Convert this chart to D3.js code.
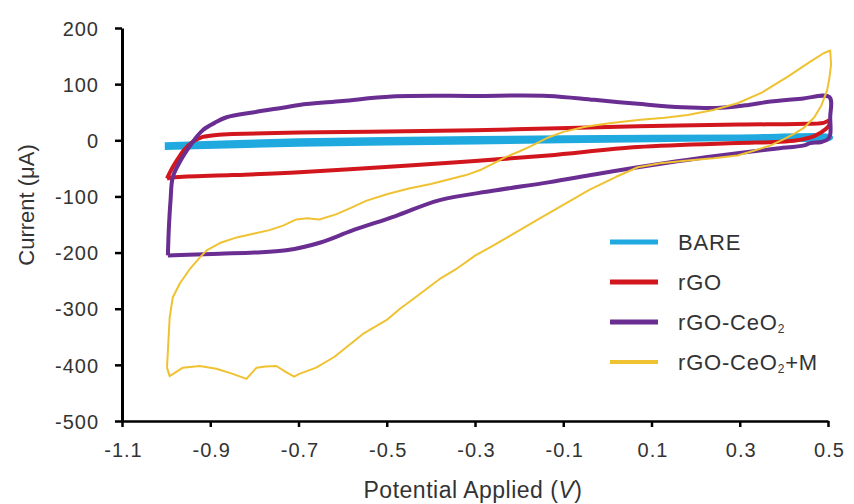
<!DOCTYPE html>
<html>
<head>
<meta charset="utf-8">
<script src="https://cdn.jsdelivr.net/npm/d3@7"></script>
<style>
  body { margin: 0; background: #fff; }
  text { font-family: "Liberation Sans", Arial, sans-serif; fill: #333; }
</style>
</head>
<body>
<svg class="cv-svg"></svg>
<script>
// potential (V) and current (uA), one loop per electrode
const bareV = [-1.003, -0.7, -0.3, 0.0, 0.3, 0.505, 0.505, 0.3, 0.0, -0.3, -0.7, -1.003];
const bareI = [-8, -1, 3, 5, 6, 6, 4, 3, 0, -3, -7, -13];

const rgoV = [-0.998, -0.99, -0.975, -0.96, -0.94, -0.917, -0.88, -0.85, -0.698, -0.54, -0.3, -0.134, 0.07, 0.3, 0.43, 0.49, 0.503,
  0.503, 0.495, 0.47, 0.43, 0.38, 0.295, 0.069, -0.134, -0.3, -0.45, -0.698, -0.85, -0.98, -0.998];
const rgoI = [-68, -55, -35, -18, -3, 6, 10, 11, 14, 15, 18, 21, 25, 28, 29, 31, 35,
  28, 20, 8, 0, -3, -5, -12, -27, -37, -45, -57, -62, -66, -68];

const ceoV = [-0.996, -0.994, -0.99, -0.985, -0.97, -0.953, -0.935, -0.917, -0.89, -0.863, -0.8, -0.728, -0.698, -0.6, -0.488, -0.3,
  -0.134, -0.03, 0.069, 0.17, 0.257, 0.32, 0.37, 0.44, 0.503, 0.505, 0.505, 0.5, 0.485, 0.46, 0.446, 0.38, 0.295, 0.18, 0.069,
  -0.03, -0.134, -0.26, -0.382, -0.48, -0.579, -0.65, -0.728, -0.8, -0.879, -0.95, -0.996];
const ceoI = [-205, -160, -107, -66, -40, -18, 2, 18, 31, 41, 50, 59, 63, 70, 78, 79,
  79, 72, 65, 59, 58, 63, 69, 74, 77, 40, 10, 2, -3, -5, -9, -15, -23, -35, -48,
  -61, -75, -90, -107, -135, -161, -182, -196, -200, -202, -204, -205];

const ceoMV = [-0.998, -0.992, -0.985, -0.969, -0.945, -0.924, -0.908, -0.875, -0.84, -0.8, -0.766, -0.735, -0.705, -0.68, -0.653,
  -0.615, -0.58, -0.547, -0.5, -0.45, -0.4, -0.36, -0.32, -0.285, -0.26, -0.231, -0.2, -0.172, -0.134, -0.1, -0.05, 0.0, 0.069,
  0.13, 0.182, 0.24, 0.295, 0.35, 0.408, 0.46, 0.49, 0.505,
  0.507, 0.503, 0.498, 0.485, 0.469, 0.445, 0.424, 0.4, 0.37, 0.33, 0.295, 0.24, 0.182, 0.12, 0.069, 0.02, -0.04, -0.1, -0.16,
  -0.22, -0.26, -0.299, -0.34, -0.38, -0.434, -0.47, -0.5, -0.554, -0.619, -0.66, -0.698, -0.71, -0.73, -0.75, -0.775, -0.795,
  -0.818, -0.849, -0.886, -0.924, -0.962, -0.992, -0.998];
const ceoMI = [-405, -316, -280, -255, -228, -209, -196, -182, -173, -166, -160, -152, -141, -139, -141,
  -132, -120, -108, -96, -86, -78, -70, -62, -52, -42, -30, -20, -10, 5, 15, 24, 30, 36,
  40, 45, 54, 66, 85, 113, 140, 155, 160,
  135, 110, 89, 62, 41, 22, 12, 2, -9, -19, -27, -32, -36, -41, -48, -65, -88, -115, -142,
  -170, -188, -205, -228, -247, -279, -300, -320, -345, -386, -405, -416, -421, -412, -402, -403, -405,
  -425, -416, -407, -402, -405, -420, -405];

const seriesNames = ["BARE", "rGO", "rGO-CeO2", "rGO-CeO2+M"];
const seriesColors = ["#1fa9de", "#d2161e", "#6a2d92", "#efc232"];
const seriesWidths = [5, 4, 4, 2];

const xTicks = [-1.1, -0.9, -0.7, -0.5, -0.3, -0.1, 0.1, 0.3, 0.5];
const yTicks = [200, 100, 0, -100, -200, -300, -400, -500];

function drawCV() {
  const width = 854;
  const height = 504;
  const left = 122, right = 828, top = 28, bottom = 421;

  const svg = d3.select(".cv-svg").attr("width", width).attr("height", height);

  const xScale = d3.scaleLinear().domain([-1.1, 0.5]).range([left, right]);
  const yScale = d3.scaleLinear().domain([-500, 200]).range([bottom, top]);

  const loops = [
    [bareV, bareI],
    [rgoV, rgoI],
    [ceoV, ceoI],
    [ceoMV, ceoMI],
  ].map(([v, c]) => v.map((d, i) => [d, c[i]]));

  const line = d3
    .line()
    .x((d) => xScale(d[0]))
    .y((d) => yScale(d[1]));

  loops.forEach((pts, k) => {
    svg
      .append("path")
      .datum(pts)
      .attr("d", line.curve(k == 3 ? d3.curveLinear : d3.curveCatmullRom.alpha(0.5)))
      .attr("fill", "none")
      .attr("stroke", seriesColors[k])
      .attr("stroke-width", seriesWidths[k])
      .attr("stroke-linejoin", "round");
  });

  // axes
  const xAxis = svg
    .append("g")
    .attr("transform", "translate(0," + bottom + ")")
    .call(d3.axisBottom(xScale).tickValues(xTicks).tickSize(6).tickSizeOuter(0).tickFormat((d) => d.toFixed(1)));
  xAxis.select(".domain").attr("stroke-width", 2.5);
  xAxis.selectAll(".tick line").attr("stroke-width", 2.5);
  xAxis
    .selectAll("text")
    .attr("y", 0)
    .attr("dy", null)
    .attr("transform", "translate(1,36)")
    .style("font-size", "20px")
    .style("letter-spacing", "1px")
    .style("fill", "#333");

  const yAxis = svg
    .append("g")
    .attr("transform", "translate(" + left + ",0)")
    .call(d3.axisLeft(yScale).tickValues(yTicks).tickSize(7).tickSizeOuter(0).tickFormat((d) => String(d)));
  yAxis.select(".domain").attr("stroke-width", 3);
  yAxis.selectAll(".tick line").attr("stroke-width", 2.5);
  yAxis
    .selectAll("text")
    .attr("x", -23)
    .attr("dy", "0.36em")
    .style("font-size", "20px")
    .style("letter-spacing", "1px")
    .style("fill", "#333");
  svg.selectAll(".domain, .tick line").attr("stroke", "#000");
  svg.selectAll(".tick text").attr("font-family", null);

  // axis titles
  const xTitle = svg
    .append("text")
    .attr("x", 473)
    .attr("y", 498)
    .attr("text-anchor", "middle")
    .style("font-size", "23px")
    .style("letter-spacing", "0.5px");
  xTitle.append("tspan").text("Potential Applied (");
  xTitle.append("tspan").style("font-style", "italic").text("V");
  xTitle.append("tspan").text(")");

  svg
    .append("text")
    .attr("transform", "translate(34,205) rotate(-90)")
    .attr("text-anchor", "middle")
    .style("font-size", "22px")
    .text("Current (\u03bcA)");

  // legend
  const legend = svg.append("g").attr("transform", "translate(610,242)");
  seriesNames.forEach((name, k) => {
    const row = legend.append("g").attr("transform", "translate(0," + k * 40 + ")");
    row
      .append("line")
      .attr("x1", 0)
      .attr("x2", 48)
      .attr("stroke", seriesColors[k])
      .attr("stroke-width", k == 3 ? 4 : 5);
    const t = row
      .append("text")
      .attr("x", 68)
      .attr("dy", "0.36em")
      .style("font-size", "22px")
      .style("letter-spacing", "0.8px");
    const parts = name.split("2");
    t.append("tspan").text(parts[0]);
    if (parts.length > 1) {
      t.append("tspan").attr("dy", 3).style("font-size", "12px").text("2");
      t.append("tspan").attr("dy", -3).text(parts[1]);
    }
  });
}

drawCV();
</script>
</body>
</html>
